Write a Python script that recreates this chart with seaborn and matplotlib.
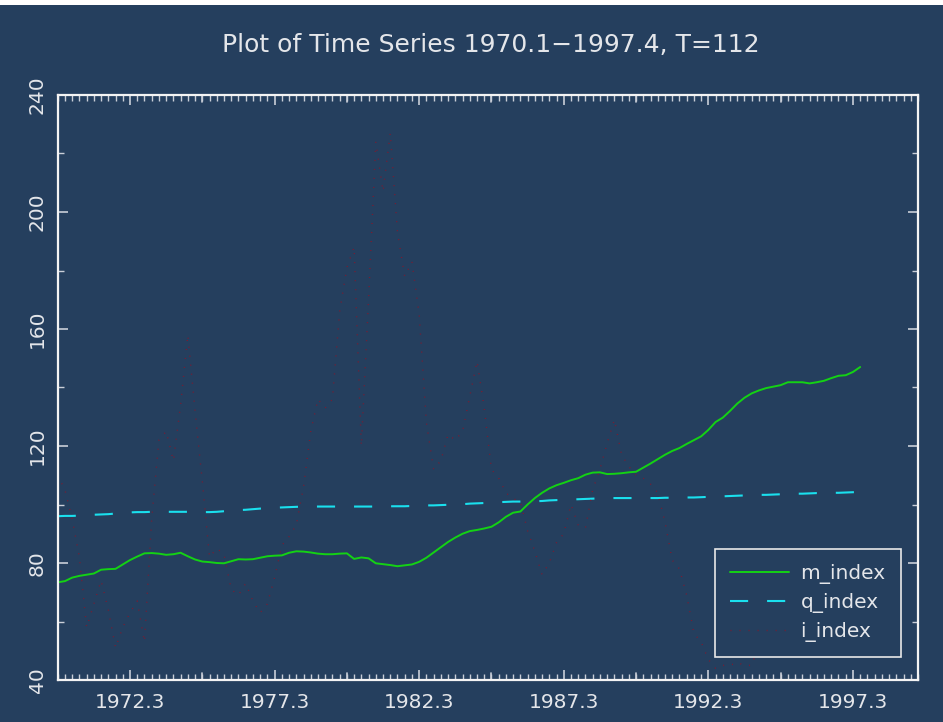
import numpy as np
import pandas as pd
import matplotlib
matplotlib.use("Agg")
import matplotlib.pyplot as plt
import seaborn as sns
from matplotlib.ticker import MultipleLocator, FixedLocator, FixedFormatter
from matplotlib.patches import Rectangle

# ---------------- data ----------------
periods = [f"{y}.{q}" for y in range(1970, 1998) for q in range(1, 5)]  # 1970.1 .. 1997.4 (T=112)

x_tick_labels = ["1972.3", "1977.3", "1982.3", "1987.3", "1992.3", "1997.3"]
y_tick_labels = ["40", "80", "120", "160", "200", "240"]

m_index = [
    73.4, 73.8, 75.0, 75.6, 76.0, 76.4, 77.7, 77.9, 78.0, 79.5,
    81.0, 82.2, 83.3, 83.4, 83.2, 82.8, 83.0, 83.5, 82.3, 81.2,
    80.5, 80.3, 80.0, 79.9, 80.6, 81.3, 81.2, 81.3, 81.8, 82.3,
    82.5, 82.6, 83.5, 84.0, 83.9, 83.6, 83.2, 83.0, 83.0, 83.2,
    83.3, 81.4, 81.9, 81.6, 79.9, 79.6, 79.3, 78.9, 79.2, 79.5,
    80.4, 81.8, 83.6, 85.4, 87.2, 88.7, 90.0, 90.9, 91.3, 91.8,
    92.4, 93.9, 95.8, 97.2, 97.6, 100.0, 102.2, 104.0, 105.5, 106.6,
    107.4, 108.3, 109.0, 110.2, 110.9, 111.0, 110.4, 110.5, 110.7, 111.0,
    111.2, 112.6, 114.0, 115.5, 117.0, 118.3, 119.3, 120.7, 122.0, 123.3,
    125.5, 128.2, 129.7, 132.0, 134.5, 136.5, 138.0, 139.0, 139.8, 140.3,
    140.8, 141.8, 141.8, 141.8, 141.4, 141.8, 142.3, 143.2, 144.0, 144.2,
    145.3, 147.0,
]

q_index = [
    96.0, 96.1, 96.1,
    96.2, 96.3, 96.5, 96.6, 96.7,
    96.9, 97.1, 97.3, 97.4, 97.4,
    97.5, 97.5, 97.5, 97.5, 97.5,
    97.5, 97.4, 97.4, 97.4, 97.5,
    97.7, 97.9, 98.1, 98.2, 98.4,
    98.6, 98.8, 98.9, 99.0, 99.1,
    99.2, 99.3, 99.3, 99.3, 99.3,
    99.3, 99.3, 99.3, 99.3, 99.3,
    99.3, 99.3, 99.3, 99.4, 99.4,
    99.4, 99.5, 99.6, 99.7, 99.7,
    99.8, 99.9, 100.0, 100.1, 100.3,
    100.4, 100.5, 100.7, 100.8, 100.9,
    101.0, 101.0, 101.1, 101.1, 101.2,
    101.4, 101.5, 101.6, 101.7, 101.8,
    101.9, 102.0, 102.1, 102.2, 102.2,
    102.2, 102.2, 102.2, 102.2, 102.2,
    102.2, 102.3, 102.3, 102.3, 102.4,
    102.4, 102.5, 102.6, 102.7, 102.8,
    102.9, 103.0, 103.1, 103.2, 103.3,
    103.3, 103.4, 103.5, 103.6, 103.7,
    103.7, 103.8, 103.9, 103.9, 104.0,
    104.0, 104.1, 104.2, 104.3,
]

i_index = [
    110, 105, 95, 82, 58, 66, 74, 64, 51, 58,
    63, 67, 53, 95, 122, 125, 115, 134, 158, 132,
    108, 82, 85, 83, 71, 69, 73, 67, 63, 66,
    75, 86, 89, 93, 106, 125, 136, 133, 136, 166,
    181, 188, 120, 170, 224, 207, 227, 193, 178, 183,
    165, 128, 112, 115, 124, 122, 125, 137, 149, 133,
    112, 109, 104, 102, 101, 91, 84, 76, 80, 87,
    90, 100, 93, 92, 105, 112, 121, 129, 117, 113,
    110, 109, 107, 104, 94, 81, 78, 69, 56, 53,
    47, 44, 45, 45, 46, 45, 45, 52, 58, 66,
    74, 80, 78, 72, 68, 64, 62, 60, 60, 62,
    60, 58,
]

title = "Plot of Time Series 1970.1\u22121997.4, T=112"

# ---------------- style ----------------
BG = "#253f5e"
FG = "#e4e6ea"
GREEN = "#14d214"
CYAN = "#1ae0ee"
RED = "#7e1a30"

sns.set_theme(style="dark")
plt.rcParams["font.family"] = ["DejaVu Sans"]
plt.rcParams["axes.facecolor"] = BG
plt.rcParams["figure.facecolor"] = BG

df = pd.DataFrame({
    "t": np.arange(len(periods)),
    "m_index": m_index,
    "q_index": q_index,
    "i_index": i_index,
})

fig = plt.figure(figsize=(9.43, 7.22), dpi=100)
fig.patch.set_facecolor(BG)
ax = fig.add_axes([57.7 / 943, 42 / 722, (918 - 57.7) / 943, 585 / 722])
ax.set_facecolor(BG)

sns.lineplot(data=df, x="t", y="m_index", ax=ax, color=GREEN, lw=1.4, label="m_index")
sns.lineplot(data=df, x="t", y="q_index", ax=ax, color=CYAN, lw=1.5,
             linestyle=(0, (8.7, 9.1)), label="q_index")
sns.lineplot(data=df, x="t", y="i_index", ax=ax, color=RED, lw=1.0,
             linestyle=(0, (0.7, 5.8)), label="i_index")

ax.set_xlim(0, 119)
ax.set_ylim(40, 240)
ax.set_xlabel("")
ax.set_ylabel("")
ax.grid(False)

for s in ax.spines.values():
    s.set_visible(True)
    s.set_color("#f4f4f4")
    s.set_linewidth(1.6)

xpos = [periods.index(l) for l in x_tick_labels]
ax.xaxis.set_major_locator(FixedLocator(xpos))
ax.xaxis.set_major_formatter(FixedFormatter(x_tick_labels))
ax.xaxis.set_minor_locator(MultipleLocator(1))
ax.yaxis.set_major_locator(FixedLocator([float(v) for v in y_tick_labels]))
ax.yaxis.set_major_formatter(FixedFormatter(y_tick_labels))
ax.yaxis.set_minor_locator(MultipleLocator(20))

ax.tick_params(axis="both", which="both", direction="in", colors="#c9ced8",
               top=True, right=True, bottom=True, left=True)
ax.tick_params(axis="both", which="major", length=7, width=1.2)
ax.tick_params(axis="both", which="minor", length=4, width=1.0)
ax.tick_params(axis="x", which="major", labelsize=14.5, labelcolor=FG, pad=9)
ax.tick_params(axis="y", which="major", labelsize=14.5, labelcolor=FG, pad=8)
for lab in ax.get_yticklabels():
    lab.set_rotation(90)
    lab.set_va("center")

# extra medium x ticks every 10 quarters (unlabelled ones)
for xv in range(0, 120, 10):
    if xv not in xpos:
        ax.plot([xv, xv], [40, 40 + 7 * 200 / 585], color="#c9ced8", lw=1.2, clip_on=False)
        ax.plot([xv, xv], [240, 240 - 7 * 200 / 585], color="#c9ced8", lw=1.2, clip_on=False)

fig.text((57.7 + 918) / 2 / 943 + 0.003, 1 - 45 / 722, title, ha="center", va="center",
         color=FG, fontsize=18)

leg = ax.legend(loc="lower left", bbox_to_anchor=((715 - 57.7) / 860.3, (680 - 657) / 585),
                frameon=True, fancybox=False, fontsize=14.5, handlelength=2.9,
                handletextpad=0.6, labelspacing=0.45, borderpad=0.75, borderaxespad=0)
leg.get_frame().set_facecolor(BG)
leg.get_frame().set_edgecolor("#e8e8e8")
leg.get_frame().set_linewidth(1.2)
leg.get_frame().set_alpha(1)
for t in leg.get_texts():
    t.set_color(FG)

# white band at top of screenshot
fig.add_artist(Rectangle((0, 1 - 5 / 722), 1, 5 / 722, transform=fig.transFigure,
                         facecolor="white", edgecolor="none", zorder=10))

fig.savefig("out.png", dpi=100, facecolor=BG)
